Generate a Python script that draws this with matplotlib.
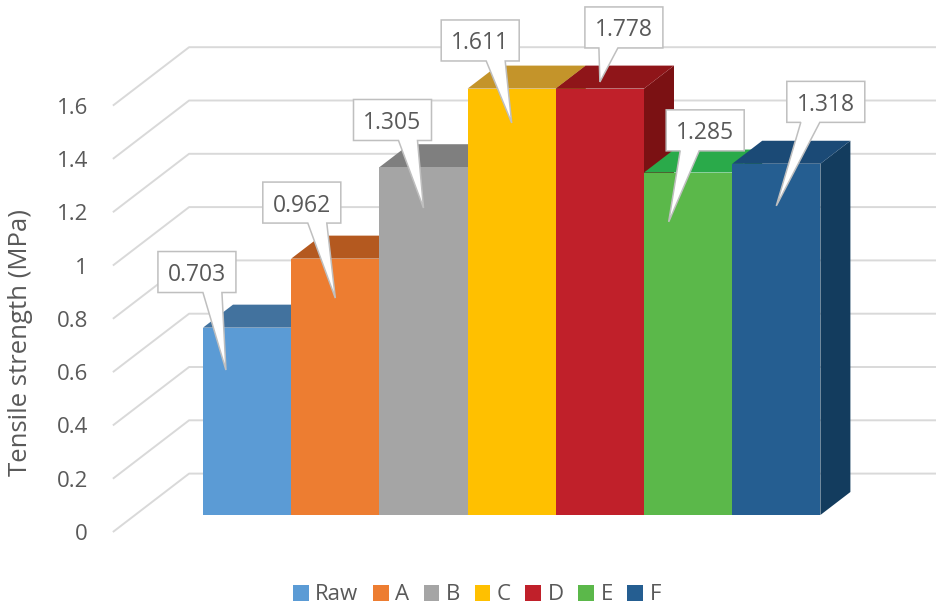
import numpy as np
import matplotlib
matplotlib.use('Agg')
import matplotlib.pyplot as plt
from matplotlib.patches import Polygon, Patch
from matplotlib import transforms

# data
categories = ['Raw', 'A', 'B', 'C', 'D', 'E', 'F']
strength = [0.703, 0.962, 1.305, 1.611, 1.778, 1.285, 1.318]
y_ticks = [0, 0.2, 0.4, 0.6, 0.8, 1.0, 1.2, 1.4, 1.6]
y_max = 1.6

# colours: front, top, side of every bar
front_colors = ['#5B9BD5', '#ED7D31', '#A5A5A5', '#FFC000', '#C0202A', '#5BB84A', '#255E91']
top_colors = ['#42729E', '#B4591F', '#7F7F7F', '#C4942A', '#8F1519', '#2AAA4A', '#1B4A76']
side_colors = ['#31567A', '#8A4418', '#666666', '#9C7620', '#7B1113', '#21883B', '#133C5E']

# callout layout: tip shift (x, category units), tip drop (value units), box centre offset from tip (px)
tip_shift = [-0.24, 0, 0, 0, 0, -0.22, 0]
tip_drop = [0.159, 0.148, 0.153, 0.14, 0.153, 0.185, 0.158]
box_off = [(-29, 98), (-33.5, 95.5), (-31, 88), (-31.5, 82.5), (24, 54.5), (36.5, 91.5), (49.5, 104)]

plt.rcParams['font.family'] = ['Open Sans', 'DejaVu Sans']
grid_c = '#D9D9D9'
text_c = '#595959'

fig = plt.figure(figsize=(9.36, 6.07), dpi=100)
ax = fig.add_axes([203 / 936, 92 / 607, 617.4 / 936, 426.4 / 607])
ax.set_xlim(-0.5, len(categories) - 0.5)
ax.set_ylim(0, y_max)
ax.axis('off')

px_x = 617.4 / len(categories)
px_y = 426.4 / y_max


def depth(d):
    # depth offset (in bar depths) -> data units
    return 30 * d / px_x, 23 * d / px_y


# walls / gridlines
wall_x = -1.27
fx, fy = depth(-0.74)
bx, by = depth(1.8)
for v in y_ticks:
    ax.plot([wall_x + fx, wall_x + bx, 12], [v + fy, v + by, v + by],
            color=grid_c, lw=1.4, clip_on=False, zorder=1, solid_capstyle='butt')
    ax.text(wall_x + fx, v + fy, '{:g}'.format(v),
            transform=transforms.offset_copy(ax.transData, fig=fig, x=-25, y=0, units='dots'),
            ha='right', va='center_baseline', fontsize=16, color=text_c)

# bars (left to right so next front covers previous side)
dx, dy = depth(1)
for i, v in enumerate(strength):
    h = min(v, y_max)
    l, r = i - 0.5, i + 0.5
    side = Polygon([(r, 0), (r + dx, dy), (r + dx, h + dy), (r, h)],
                   closed=True, fc=side_colors[i], ec='none', clip_on=False, zorder=2 + i)
    top = Polygon([(l, h), (r, h), (r + dx, h + dy), (l + dx, h + dy)],
                  closed=True, fc=top_colors[i], ec='none', clip_on=False, zorder=2 + i)
    front = Polygon([(l, 0), (r, 0), (r, h), (l, h)],
                    closed=True, fc=front_colors[i], ec='none', clip_on=False, zorder=2 + i)
    ax.add_patch(side)
    ax.add_patch(top)
    ax.add_patch(front)

# callouts
bw, bh = 78, 41
for i, v in enumerate(strength):
    tx, ty = i + tip_shift[i], v - tip_drop[i]
    ox, oy = box_off[i]
    left, right = ox - bw / 2, ox + bw / 2
    bottom, topy = oy - bh / 2, oy + bh / 2
    sign = 1 if ox < 0 else -1
    b1, b2 = sorted([ox + sign * 6, ox + sign * 25])
    verts = [(left, topy), (left, bottom), (b1, bottom), (0, 0), (b2, bottom),
             (right, bottom), (right, topy)]
    trans = transforms.Affine2D() + transforms.ScaledTranslation(tx, ty, ax.transData)
    ax.add_patch(Polygon(verts, closed=True, fc='white', ec='#BFBFBF', lw=1.1,
                         transform=trans, clip_on=False, zorder=20, joinstyle='miter'))
    ax.text(tx, ty, '{:.3f}'.format(v),
            transform=transforms.offset_copy(ax.transData, fig=fig, x=ox, y=oy, units='dots'),
            ha='center', va='center_baseline', fontsize=16.5, color=text_c, zorder=21)

fig.text(21 / 936, 1 - 343 / 607, 'Tensile strength (MPa)', rotation=90,
         ha='center', va='center', fontsize=18.5, color=text_c)

handles = [Patch(facecolor=c, edgecolor='none') for c in front_colors]
fig.legend(handles, categories, loc='center', bbox_to_anchor=(0.5095, 1 - 595 / 607),
           ncol=7, frameon=False, fontsize=16, handlelength=0.7, handleheight=0.7,
           handletextpad=0.3, columnspacing=0.65, labelcolor=text_c)

fig.savefig('out.png', dpi=100)
